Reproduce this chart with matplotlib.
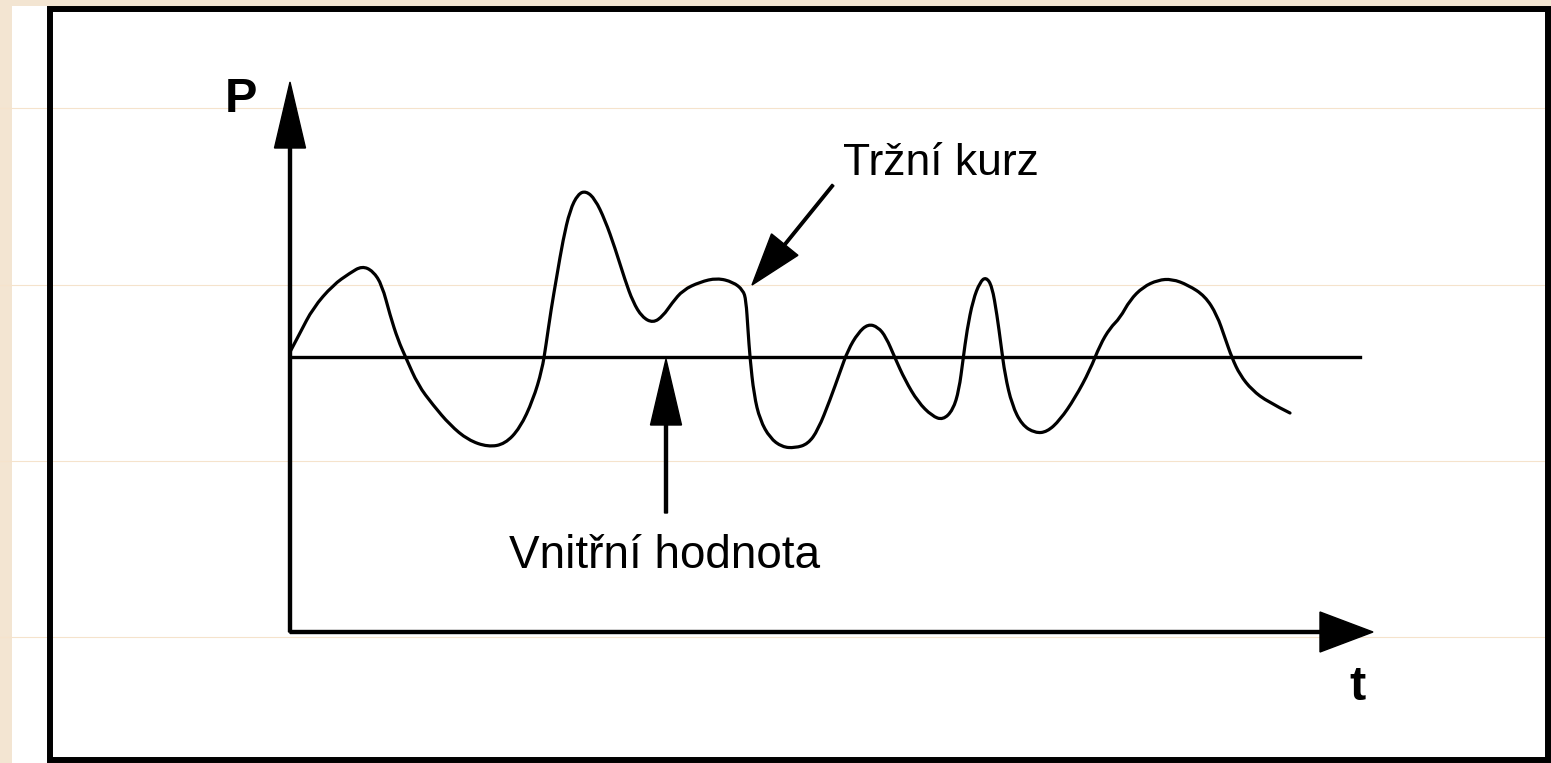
import numpy as np
import matplotlib
matplotlib.use('Agg')
import matplotlib.pyplot as plt
from matplotlib.patches import Rectangle, PathPatch
from matplotlib.path import Path

plt.rcParams['font.family'] = ['Liberation Sans', 'DejaVu Sans']

# market price curve (t, P)
t = [0, 1.0, 2.3, 4.3, 6.0, 7.2, 8.3, 9.2, 10.0, 10.8, 11.6, 12.8, 14.3, 16.0, 17.8,
     19.8, 21.5, 23.0, 24.3, 25.2, 25.6, 26.1, 26.7, 27.3, 28.0, 28.8, 29.6, 30.5,
     31.5, 32.5, 33.5, 34.3, 35.2, 36.3, 37.3, 38.2, 39.3, 41.0, 42.7, 44.3, 45.3,
     45.6, 45.8, 46.0, 46.4, 47.0, 48.0, 49.2, 50.5, 51.8, 52.8, 54.0, 55.0, 55.8,
     56.8, 57.8, 58.8, 59.6, 60.5, 61.5, 62.8, 64.2, 65.3, 66.3, 66.9, 67.3, 67.7,
     68.3, 69.0, 69.6, 70.2, 70.7, 71.1, 71.5, 72.2, 73.2, 74.5, 75.7, 77.0, 78.5,
     80.0, 81.0, 82.0, 83.0, 84.0, 85.3, 86.8, 88.2, 89.8, 91.5, 92.7, 93.5, 94.2,
     95.0, 96.2, 97.8, 100.0]
price = [28.0, 29.9, 32.4, 34.7, 35.9, 36.6, 36.1, 34.7, 31.7, 29.2, 27.4, 24.7, 22.7,
         20.7, 19.2, 18.5, 18.8, 20.4, 23.2, 26.2, 28.7, 32.2, 35.7, 39.2, 42.2, 43.8,
         44.1, 43.3, 41.2, 38.4, 35.2, 33.0, 31.5, 30.9, 31.6, 32.9, 34.2, 35.0, 35.4,
         35.0, 34.2, 33.2, 30.2, 27.4, 23.7, 21.2, 19.4, 18.5, 18.4, 18.8, 20.2, 23.2,
         26.0, 28.2, 29.9, 30.8, 30.5, 29.5, 27.4, 25.2, 23.0, 21.6, 21.2, 22.2, 24.2,
         27.2, 30.2, 33.2, 35.0, 35.5, 34.6, 31.7, 28.7, 25.7, 22.7, 20.7, 19.9, 20.0,
         21.2, 23.4, 26.2, 28.7, 30.4, 31.4, 33.2, 34.5, 35.2, 35.3, 34.7, 33.6, 31.7,
         29.4, 27.4, 25.7, 24.2, 23.0, 21.9]

intrinsic = 27.5      # vnitrni hodnota
t_end_line = 107.0
p_axis_top = 55.0
t_axis_end = 108.3

label_market = 'Tržní kurz'
label_intrinsic = 'Vnitřní hodnota'

beige = '#F3E5D2'

fig = plt.figure(figsize=(15.51, 7.63), dpi=100)
fig.patch.set_facecolor(beige)
ax = fig.add_axes([0, 0, 1, 1])
ax.set_xlim(-29, 126.1)
ax.set_ylim(-13.1, 63.2)
ax.axis('off')

# white sheet + frame
ax.add_patch(Rectangle((-27.8, -13.1), 153.9, 75.7, facecolor='white', edgecolor='none', zorder=0))
for yy in [52.4, 34.7, 17.1, -0.5]:
    ax.axhline(yy, color='#F5E3CC', lw=0.8, zorder=0.5)
ax.add_patch(Rectangle((-24.0, -12.8), 149.8, 75.1, facecolor='none', edgecolor='black', lw=4.3, zorder=1))

# axes with arrows
ax.arrow(0, 0, 0, p_axis_top, width=0.3, head_width=3.1, head_length=6.6,
         length_includes_head=True, color='black', zorder=3)
ax.arrow(0, 0, t_axis_end, 0, width=0.3, head_width=4.0, head_length=5.3,
         length_includes_head=True, color='black', zorder=3)
ax.text(-4.9, 53.2, 'P', fontsize=35, fontweight='bold', ha='center', va='center')
ax.text(106.8, -5.6, 't', fontsize=35, fontweight='bold', ha='center', va='center')

# intrinsic value line
ax.plot([0, t_end_line], [intrinsic, intrinsic], color='black', lw=2.4, zorder=2)

# market price: smooth quadratic bezier through the read points
pts = list(zip(t, price))
verts = [pts[0]]
codes = [Path.MOVETO]
for i in range(1, len(pts) - 1):
    mid = ((pts[i][0] + pts[i + 1][0]) / 2, (pts[i][1] + pts[i + 1][1]) / 2)
    if i == len(pts) - 2:
        mid = pts[-1]
    verts += [pts[i], mid]
    codes += [Path.CURVE3, Path.CURVE3]
ax.add_patch(PathPatch(Path(verts, codes), facecolor='none', edgecolor='black',
                       lw=2.3, capstyle='round', joinstyle='round', zorder=2))

# labels with pointers
ax.arrow(37.6, 11.9, 0, intrinsic - 11.9 - 0.2, width=0.3, head_width=3.1, head_length=6.6,
         length_includes_head=True, color='black', zorder=3)
ax.text(37.5, 6.4, label_intrinsic, fontsize=33, ha='center', va='baseline')
ax.arrow(54.3, 44.7, 46.2 - 54.3, 34.7 - 44.7, width=0.25, head_width=3.4, head_length=5.2,
         length_includes_head=True, color='black', zorder=3)
ax.text(55.3, 45.7, label_market, fontsize=32, ha='left', va='baseline')

plt.savefig('out.png', dpi=100, facecolor=fig.get_facecolor())
